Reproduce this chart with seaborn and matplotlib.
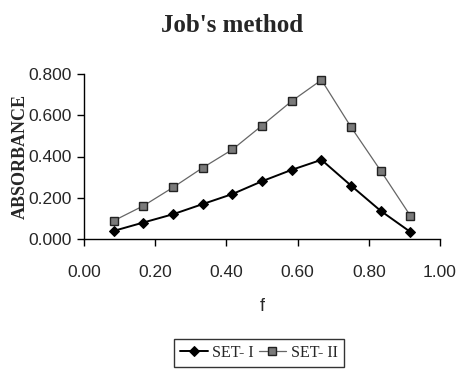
import matplotlib
matplotlib.use("Agg")
import matplotlib.pyplot as plt
import seaborn as sns
import pandas as pd
import numpy as np

f_values = [0.083, 0.167, 0.250, 0.333, 0.417, 0.500, 0.583, 0.667, 0.750, 0.833, 0.917]
set1 = [0.039, 0.080, 0.120, 0.169, 0.218, 0.280, 0.335, 0.384, 0.259, 0.137, 0.034]
set2 = [0.088, 0.161, 0.250, 0.345, 0.434, 0.550, 0.668, 0.771, 0.543, 0.332, 0.112]
series_names = ["SET- I", "SET- II"]
x_ticks = [0.0, 0.2, 0.4, 0.6, 0.8, 1.0]
y_ticks = [0.0, 0.2, 0.4, 0.6, 0.8]

df = pd.DataFrame({
    "f": f_values * 2,
    "abs": set1 + set2,
    "series": [series_names[0]] * len(set1) + [series_names[1]] * len(set2),
})

sns.set_theme(style="white")
plt.rcParams["font.family"] = ["Liberation Sans", "DejaVu Sans"]

fig = plt.figure(figsize=(4.57, 3.71), dpi=100)
ax = fig.add_axes([84 / 457, 1 - 239 / 371, (440 - 84) / 457, (239 - 74) / 371])

sns.lineplot(data=df[df.series == series_names[0]], x="f", y="abs", ax=ax,
             color="black", lw=1.4, marker="D", markersize=5,
             markerfacecolor="black", markeredgecolor="black", label=series_names[0])
sns.lineplot(data=df[df.series == series_names[1]], x="f", y="abs", ax=ax,
             color="#666666", lw=0.9, marker="s", markersize=5.5,
             markerfacecolor="#7a7a7a", markeredgecolor="#222222", markeredgewidth=1.0,
             label=series_names[1])

ax.set_xlim(0, 1.0)
ax.set_ylim(0, 0.8)
ax.set_xticks(x_ticks)
ax.set_yticks(y_ticks)
ax.set_xticklabels([f"{v:.2f}" for v in x_ticks], fontsize=12.5)
ax.set_yticklabels([f"{v:.3f}" for v in y_ticks], fontsize=12.5)
ax.tick_params(axis="both", direction="out", length=5, width=1, color="black",
               bottom=True, left=True, pad=4)
ax.tick_params(axis="x", pad=14)
for s in ["top", "right"]:
    ax.spines[s].set_visible(False)
for s in ["left", "bottom"]:
    ax.spines[s].set_color("black")
    ax.spines[s].set_linewidth(1.0)

ax.set_xlabel("f", fontsize=13, labelpad=13)
ax.set_ylabel("ABSORBANCE", fontsize=13, fontweight="bold",
              family=["Liberation Serif"])
ax.yaxis.set_label_coords(-(84 - 20) / (440 - 84), 0.5)
ax.yaxis.label.set_va("center")
fig.text(232 / 457, 1 - 25 / 371, "Job's method", ha="center", va="center",
         fontsize=18, fontweight="bold", family=["Liberation Serif"])

leg = ax.legend(loc="center", bbox_to_anchor=(259 / 457, 1 - 353 / 371),
                bbox_transform=fig.transFigure, ncol=2, frameon=True,
                prop={"family": "Liberation Serif", "size": 11.5},
                handlelength=1.7, handletextpad=0.3, columnspacing=0.3,
                borderpad=0.4, borderaxespad=0, fancybox=False)
leg.get_frame().set_edgecolor("black")
leg.get_frame().set_linewidth(1.0)

fig.savefig("out.png", dpi=100, facecolor="white")
